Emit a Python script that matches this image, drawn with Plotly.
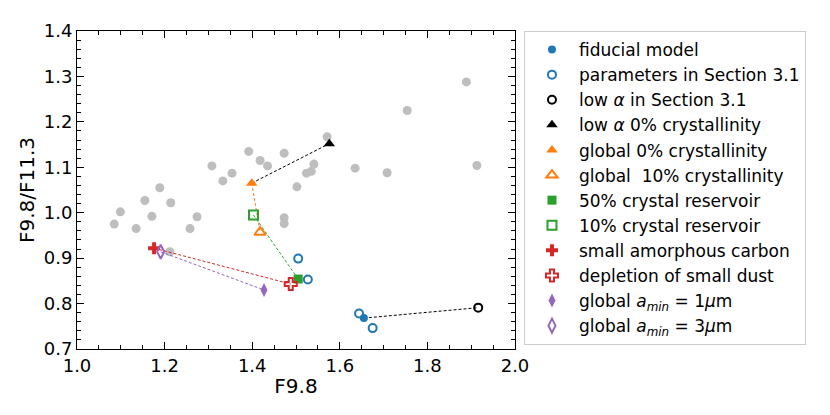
import plotly.graph_objects as go

# grey background sample (F9.8, F9.8/F11.3)
grey_x = [1.085, 1.099, 1.135, 1.155, 1.171, 1.189, 1.214, 1.212, 1.258, 1.274,
          1.308, 1.333, 1.354, 1.392, 1.418, 1.435, 1.473, 1.473, 1.473, 1.502,
          1.524, 1.535, 1.541, 1.571, 1.635, 1.708, 1.754, 1.889, 1.913]
grey_y = [0.975, 1.002, 0.965, 1.027, 0.992, 1.055, 1.022, 0.914, 0.965, 0.991,
          1.103, 1.070, 1.087, 1.135, 1.115, 1.103, 1.131, 0.989, 0.976, 1.057,
          1.087, 1.091, 1.107, 1.167, 1.098, 1.088, 1.225, 1.288, 1.104]

# model points
fid_x, fid_y = [1.655], [0.768]
param_x = [1.505, 1.527, 1.644, 1.675]
param_y = [0.899, 0.853, 0.778, 0.746]
lowa_x, lowa_y = [1.916], [0.791]
lowa0_x, lowa0_y = [1.576], [1.152]
glob0_x, glob0_y = [1.399], [1.065]
glob10_x, glob10_y = [1.418], [0.957]
res50_x, res50_y = [1.505], [0.854]
res10_x, res10_y = [1.403], [0.995]
carb_x, carb_y = [1.176], [0.922]
depl_x, depl_y = [1.488], [0.843]
amin1_x, amin1_y = [1.427], [0.830]
amin3_x, amin3_y = [1.191], [0.914]

blue, orange, green, red, purple = "#1f77b4", "#ff7f0e", "#2ca02c", "#d62728", "#9467bd"

fig = go.Figure()

fig.add_trace(go.Scatter(x=grey_x, y=grey_y, mode="markers", showlegend=False,
                         marker=dict(size=9, color="rgb(190,190,190)", line=dict(width=0))))

# connecting dashed lines
links = [
    (fid_x + lowa_x, fid_y + lowa_y, "black"),
    (glob0_x + lowa0_x, glob0_y + lowa0_y, "black"),
    (glob0_x + glob10_x, glob0_y + glob10_y, orange),
    (res10_x + res50_x, res10_y + res50_y, green),
    (carb_x + depl_x, carb_y + depl_y, red),
    (amin3_x + amin1_x, amin3_y + amin1_y, purple),
]
for lx, ly, c in links:
    fig.add_trace(go.Scatter(x=lx, y=ly, mode="lines", showlegend=False,
                             line=dict(color=c, width=1, dash="3px,2px")))

def pts(x, y, name, symbol, color, size, lw=0):
    fig.add_trace(go.Scatter(x=x, y=y, mode="markers", name=name,
                             marker=dict(symbol=symbol, size=size, color=color,
                                         line=dict(width=lw, color=color))))

pts(fid_x, fid_y, "fiducial model", "circle", blue, 8)
pts(param_x, param_y, "parameters in Section 3.1", "circle-open", blue, 8, 2)
pts(lowa_x, lowa_y, "low <i>α</i> in Section 3.1", "circle-open", "black", 8, 2)
pts(lowa0_x, lowa0_y, "low <i>α</i> 0% crystallinity", "triangle-up", "black", 10)
pts(glob0_x, glob0_y, "global 0% crystallinity", "triangle-up", orange, 10)
pts(glob10_x, glob10_y, "global &nbsp;10% crystallinity", "triangle-up-open", orange, 10, 2)
pts(res50_x, res50_y, "50% crystal reservoir", "square", green, 9)
pts(res10_x, res10_y, "10% crystal reservoir", "square-open", green, 9, 2)
pts(carb_x, carb_y, "small amorphous carbon", "cross", red, 10)
pts(depl_x, depl_y, "depletion of small dust", "cross-open", red, 10, 2)
pts(amin1_x, amin1_y, "global <i>a<sub>min</sub></i> = 1<i>μ</i>m", "diamond-tall", purple, 10)
pts(amin3_x, amin3_y, "global <i>a<sub>min</sub></i> = 3<i>μ</i>m", "diamond-tall-open", purple, 10, 2)

axis = dict(showgrid=False, zeroline=False, showline=True, linecolor="black", linewidth=1,
            mirror="allticks", ticks="inside", ticklen=7, tickwidth=1, tickcolor="black",
            tickfont=dict(size=18, color="black"))

# page has an 8px body margin, so the figure is shrunk to fit the 830x415 window
fig.update_layout(
    width=814, height=399,
    margin=dict(l=69, r=307, t=19, b=58),
    plot_bgcolor="white", paper_bgcolor="white",
    font=dict(family="DejaVu Sans", color="black"),
    xaxis=dict(axis, range=[1.0, 2.0], dtick=0.2, tickformat=".1f",
               minor=dict(dtick=0.05, ticks="inside", ticklen=4, tickcolor="black"),
               title=dict(text="F9.8", font=dict(size=20), standoff=4)),
    yaxis=dict(axis, range=[0.7, 1.4], dtick=0.1, tickformat=".1f",
               minor=dict(dtick=0.02, ticks="inside", ticklen=4, tickcolor="black"),
               title=dict(text="F9.8/F11.3", font=dict(size=20), standoff=3)),
    legend=dict(x=1.0205, y=1.0, xanchor="left", yanchor="top",
                bordercolor="#cccccc", borderwidth=1, font=dict(size=17),
                itemwidth=44, tracegroupgap=0),
)

fig.write_html("out.html")
